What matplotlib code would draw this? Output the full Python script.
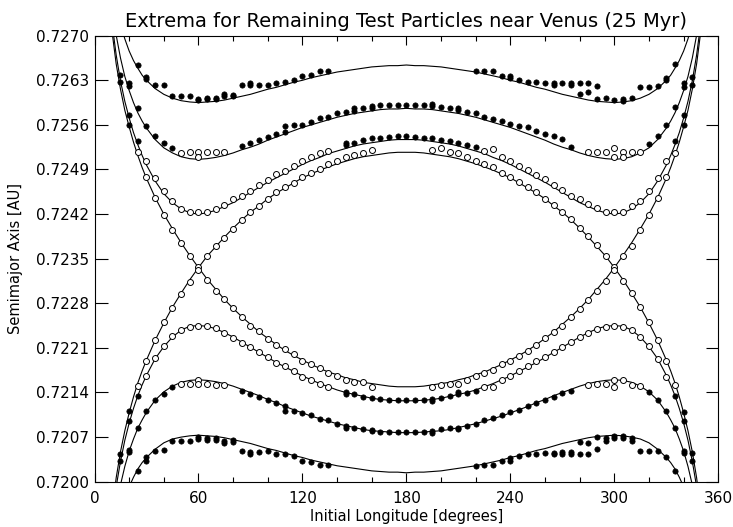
import numpy as np
import matplotlib
matplotlib.use("Agg")
import matplotlib.pyplot as plt
from matplotlib.ticker import MultipleLocator

plt.rcParams['font.family'] = ['DejaVu Sans']

# longitudes at which the zero-velocity curves were read
line_lon = [10, 12.5, 15, 17.5, 20, 22.5, 25, 27.5, 30, 35, 40, 45, 50, 55, 60, 65, 70, 75, 80, 85,
            90, 95, 100, 105, 110, 115, 120, 125, 130, 135, 140, 145, 150, 155, 160, 165, 170, 175,
            180, 185, 190, 195, 200, 205, 210, 215, 220, 225, 230, 235, 240, 245, 250, 255, 260,
            265, 270, 275, 280, 285, 290, 295, 300, 305, 310, 315, 320, 325, 330, 332.5, 335,
            337.5, 340, 342.5, 345, 347.5, 350]

# upper curves (outer), top to bottom
u1_line = [0.72795, 0.72751, 0.72719, 0.72695, 0.72676, 0.72661, 0.72649, 0.72638, 0.72630, 0.72617,
           0.72608, 0.72602, 0.72598, 0.72596, 0.72595, 0.72596, 0.72597, 0.72599, 0.72602, 0.72605,
           0.72608, 0.72612, 0.72616, 0.72619, 0.72623, 0.72627, 0.72630, 0.72634, 0.72637, 0.72640,
           0.72643, 0.72645, 0.72647, 0.72649, 0.72651, 0.72652, 0.72653, 0.72653, 0.72654,
           0.72653, 0.72653, 0.72652, 0.72651, 0.72649, 0.72647, 0.72645, 0.72643, 0.72640, 0.72637,
           0.72634, 0.72630, 0.72627, 0.72623, 0.72619, 0.72616, 0.72612, 0.72608, 0.72605, 0.72602,
           0.72599, 0.72597, 0.72596, 0.72595, 0.72596, 0.72598, 0.72602, 0.72608, 0.72617, 0.72630,
           0.72638, 0.72649, 0.72661, 0.72676, 0.72695, 0.72719, 0.72751, 0.72795]
u2_line = [0.72750, 0.72701, 0.72665, 0.72636, 0.72614, 0.72595, 0.72579, 0.72566, 0.72555, 0.72537,
           0.72524, 0.72516, 0.72510, 0.72507, 0.72506, 0.72507, 0.72509, 0.72512, 0.72516, 0.72521,
           0.72525, 0.72530, 0.72536, 0.72541, 0.72546, 0.72551, 0.72556, 0.72560, 0.72564, 0.72568,
           0.72572, 0.72575, 0.72578, 0.72580, 0.72582, 0.72584, 0.72585, 0.72585, 0.72586,
           0.72585, 0.72585, 0.72584, 0.72582, 0.72580, 0.72578, 0.72575, 0.72572, 0.72568, 0.72564,
           0.72560, 0.72556, 0.72551, 0.72546, 0.72541, 0.72536, 0.72530, 0.72525, 0.72521, 0.72516,
           0.72512, 0.72509, 0.72507, 0.72506, 0.72507, 0.72510, 0.72516, 0.72524, 0.72537, 0.72555,
           0.72566, 0.72579, 0.72595, 0.72614, 0.72636, 0.72665, 0.72701, 0.72750]
u3_line = [0.72722, 0.72670, 0.72629, 0.72597, 0.72571, 0.72548, 0.72529, 0.72512, 0.72497, 0.72472,
           0.72452, 0.72438, 0.72428, 0.72422, 0.72420, 0.72422, 0.72426, 0.72432, 0.72438, 0.72446,
           0.72454, 0.72462, 0.72470, 0.72477, 0.72484, 0.72491, 0.72498, 0.72504, 0.72509, 0.72515,
           0.72519, 0.72523, 0.72527, 0.72530, 0.72532, 0.72534, 0.72536, 0.72537, 0.72537,
           0.72537, 0.72536, 0.72534, 0.72532, 0.72530, 0.72527, 0.72523, 0.72519, 0.72515, 0.72509,
           0.72504, 0.72498, 0.72491, 0.72484, 0.72477, 0.72470, 0.72462, 0.72454, 0.72446, 0.72438,
           0.72432, 0.72426, 0.72422, 0.72420, 0.72422, 0.72428, 0.72438, 0.72452, 0.72472, 0.72497,
           0.72512, 0.72529, 0.72548, 0.72571, 0.72597, 0.72629, 0.72670, 0.72722]
u4_line = [0.72709, 0.72656, 0.72616, 0.72583, 0.72557, 0.72533, 0.72512, 0.72493, 0.72476, 0.72446,
           0.72420, 0.72397, 0.72375, 0.72355, 0.72336, 0.72354, 0.72369, 0.72384, 0.72398, 0.72411,
           0.72423, 0.72433, 0.72444, 0.72453, 0.72461, 0.72469, 0.72477, 0.72483, 0.72489, 0.72494,
           0.72499, 0.72503, 0.72507, 0.72510, 0.72512, 0.72514, 0.72516, 0.72517, 0.72517,
           0.72517, 0.72516, 0.72514, 0.72512, 0.72510, 0.72507, 0.72503, 0.72499, 0.72494, 0.72489,
           0.72483, 0.72477, 0.72469, 0.72461, 0.72453, 0.72444, 0.72433, 0.72423, 0.72411, 0.72398,
           0.72384, 0.72369, 0.72354, 0.72336, 0.72355, 0.72375, 0.72397, 0.72420, 0.72446, 0.72476,
           0.72493, 0.72512, 0.72533, 0.72557, 0.72583, 0.72616, 0.72656, 0.72709]

# lower curves (inner), top to bottom
l4_line = [0.71950, 0.72006, 0.72047, 0.72080, 0.72108, 0.72133, 0.72155, 0.72174, 0.72191, 0.72222,
           0.72249, 0.72274, 0.72296, 0.72317, 0.72336, 0.72318, 0.72302, 0.72286, 0.72272, 0.72259,
           0.72247, 0.72235, 0.72225, 0.72215, 0.72206, 0.72198, 0.72191, 0.72184, 0.72178, 0.72172,
           0.72168, 0.72163, 0.72160, 0.72156, 0.72154, 0.72152, 0.72150, 0.72149, 0.72149,
           0.72149, 0.72150, 0.72152, 0.72154, 0.72156, 0.72160, 0.72163, 0.72168, 0.72172, 0.72178,
           0.72184, 0.72191, 0.72198, 0.72206, 0.72215, 0.72225, 0.72235, 0.72247, 0.72259, 0.72272,
           0.72286, 0.72302, 0.72318, 0.72336, 0.72317, 0.72296, 0.72274, 0.72249, 0.72222, 0.72191,
           0.72174, 0.72155, 0.72133, 0.72108, 0.72080, 0.72047, 0.72006, 0.71950]
l3_line = [0.71938, 0.71992, 0.72032, 0.72065, 0.72092, 0.72115, 0.72135, 0.72152, 0.72167, 0.72193,
           0.72212, 0.72227, 0.72238, 0.72244, 0.72245, 0.72244, 0.72240, 0.72234, 0.72227, 0.72219,
           0.72211, 0.72203, 0.72195, 0.72187, 0.72180, 0.72173, 0.72166, 0.72160, 0.72154, 0.72149,
           0.72144, 0.72140, 0.72137, 0.72134, 0.72131, 0.72129, 0.72128, 0.72127, 0.72127,
           0.72127, 0.72128, 0.72129, 0.72131, 0.72134, 0.72137, 0.72140, 0.72144, 0.72149, 0.72154,
           0.72160, 0.72166, 0.72173, 0.72180, 0.72187, 0.72195, 0.72203, 0.72211, 0.72219, 0.72227,
           0.72234, 0.72240, 0.72244, 0.72245, 0.72244, 0.72238, 0.72227, 0.72212, 0.72193, 0.72167,
           0.72152, 0.72135, 0.72115, 0.72092, 0.72065, 0.72032, 0.71992, 0.71938]
l2_line = [0.71907, 0.71957, 0.71995, 0.72024, 0.72048, 0.72067, 0.72084, 0.72097, 0.72109, 0.72128,
           0.72141, 0.72150, 0.72156, 0.72159, 0.72160, 0.72159, 0.72157, 0.72154, 0.72150, 0.72145,
           0.72140, 0.72135, 0.72129, 0.72124, 0.72118, 0.72113, 0.72108, 0.72103, 0.72099, 0.72095,
           0.72091, 0.72088, 0.72085, 0.72082, 0.72080, 0.72079, 0.72078, 0.72077, 0.72077,
           0.72077, 0.72078, 0.72079, 0.72080, 0.72082, 0.72085, 0.72088, 0.72091, 0.72095, 0.72099,
           0.72103, 0.72108, 0.72113, 0.72118, 0.72124, 0.72129, 0.72135, 0.72140, 0.72145, 0.72150,
           0.72154, 0.72157, 0.72159, 0.72160, 0.72159, 0.72156, 0.72150, 0.72141, 0.72128, 0.72109,
           0.72097, 0.72084, 0.72067, 0.72048, 0.72024, 0.71995, 0.71957, 0.71907]
l1_line = [0.71873, 0.71917, 0.71949, 0.71973, 0.71992, 0.72007, 0.72020, 0.72030, 0.72038, 0.72051,
           0.72061, 0.72067, 0.72070, 0.72072, 0.72073, 0.72072, 0.72071, 0.72069, 0.72066, 0.72063,
           0.72060, 0.72056, 0.72052, 0.72049, 0.72045, 0.72041, 0.72038, 0.72034, 0.72031, 0.72028,
           0.72025, 0.72023, 0.72021, 0.72019, 0.72017, 0.72016, 0.72015, 0.72015, 0.72014,
           0.72015, 0.72015, 0.72016, 0.72017, 0.72019, 0.72021, 0.72023, 0.72025, 0.72028, 0.72031,
           0.72034, 0.72038, 0.72041, 0.72045, 0.72049, 0.72052, 0.72056, 0.72060, 0.72063, 0.72066,
           0.72069, 0.72071, 0.72072, 0.72073, 0.72072, 0.72070, 0.72067, 0.72061, 0.72051, 0.72038,
           0.72030, 0.72020, 0.72007, 0.71992, 0.71973, 0.71949, 0.71917, 0.71873]

# test particles: filled = one kind of extremum, open = the other
u1_fill_lon = [25, 30, 30, 35, 40, 45, 50, 55, 60, 60, 65, 65, 70, 70, 75, 75, 80, 80, 85, 90,
               90, 95, 100, 105, 110, 115, 120, 125, 130, 135, 220, 225, 230, 235, 240, 240, 245, 250,
               255, 260, 265, 265, 270, 275, 275, 280, 280, 285, 285, 290, 290, 295, 300, 305, 305,
               310, 315, 320, 325, 330, 330, 335]
u1_fill_a = [0.72654, 0.72635, 0.72632, 0.72622, 0.72622, 0.72605, 0.72605, 0.72605, 0.72601, 0.72599,
             0.72602, 0.72600, 0.72602, 0.72600, 0.72609, 0.72606, 0.72607, 0.72605, 0.72622, 0.72625,
             0.72622, 0.72623, 0.72622, 0.72626, 0.72627, 0.72631, 0.72636, 0.72638, 0.72645, 0.72644,
             0.72645, 0.72644, 0.72644, 0.72637, 0.72636, 0.72633, 0.72630, 0.72627, 0.72627, 0.72625,
             0.72626, 0.72623, 0.72625, 0.72626, 0.72622, 0.72626, 0.72609, 0.72626, 0.72611, 0.72621,
             0.72600, 0.72603, 0.72599, 0.72601, 0.72598, 0.72602, 0.72620, 0.72620, 0.72621, 0.72634,
             0.72630, 0.72655]

u2_fill_lon = [20, 20, 25, 30, 35, 40, 45, 85, 90, 95, 100, 105, 110, 110, 115, 120, 125, 130, 135,
               140, 145, 150, 150, 155, 160, 160, 165, 170, 175, 180, 185, 190, 195, 195, 200, 205,
               210, 210, 215, 220, 225, 230, 235, 240, 245, 250, 255, 260, 265, 270, 275, 320, 325,
               330, 335, 340, 340]
u2_fill_a = [0.72626, 0.72621, 0.72586, 0.72559, 0.72542, 0.72532, 0.72524, 0.72527, 0.72531, 0.72536,
             0.72541, 0.72545, 0.72559, 0.72549, 0.72560, 0.72560, 0.72565, 0.72571, 0.72572, 0.72579,
             0.72581, 0.72586, 0.72582, 0.72587, 0.72589, 0.72586, 0.72592, 0.72592, 0.72592, 0.72592,
             0.72592, 0.72592, 0.72593, 0.72590, 0.72588, 0.72587, 0.72587, 0.72583, 0.72581, 0.72579,
             0.72573, 0.72569, 0.72566, 0.72561, 0.72558, 0.72556, 0.72551, 0.72546, 0.72543, 0.72538,
             0.72526, 0.72530, 0.72542, 0.72560, 0.72588, 0.72625, 0.72620]
u2_open_lon = [50, 55, 60, 60, 65, 70, 75, 285, 290, 295, 300, 300, 305, 305, 310, 315]
u2_open_a = [0.72516, 0.72517, 0.72517, 0.72510, 0.72517, 0.72518, 0.72517, 0.72517, 0.72517,
             0.72517, 0.72523, 0.72510, 0.72517, 0.72510, 0.72517, 0.72518]

u3_fill_lon = [15, 20, 25, 145, 145, 150, 155, 160, 165, 170, 175, 180, 185, 190, 195, 200, 205,
               210, 215, 220, 335, 340, 345]
u3_fill_a = [0.72638, 0.72576, 0.72534, 0.72531, 0.72528, 0.72531, 0.72537, 0.72539, 0.72539,
             0.72541, 0.72542, 0.72542, 0.72541, 0.72539, 0.72539, 0.72537, 0.72534, 0.72532,
             0.72529, 0.72526, 0.72534, 0.72576, 0.72635]
u3_open_lon = [30, 35, 40, 45, 50, 55, 60, 65, 70, 75, 80, 85, 90, 95, 100, 105, 110, 115, 120,
               125, 130, 135, 225, 230, 235, 240, 245, 250, 255, 260, 265, 270, 275, 280, 285, 290,
               295, 300, 305, 310, 315, 320, 325, 330]
u3_open_a = [0.72503, 0.72477, 0.72456, 0.72440, 0.72428, 0.72424, 0.72424, 0.72424, 0.72428, 0.72435,
             0.72444, 0.72449, 0.72457, 0.72465, 0.72473, 0.72483, 0.72488, 0.72495, 0.72503, 0.72510,
             0.72516, 0.72519, 0.72519, 0.72522, 0.72510, 0.72503, 0.72495, 0.72489, 0.72482, 0.72475,
             0.72466, 0.72458, 0.72449, 0.72443, 0.72436, 0.72430, 0.72424, 0.72424, 0.72424, 0.72432,
             0.72441, 0.72456, 0.72477, 0.72504]

u4_fill_lon = [15, 20, 340, 345]
u4_fill_a = [0.72628, 0.72560, 0.72560, 0.72622]
u4_open_lon = [25, 30, 35, 40, 45, 50, 55, 60, 65, 70, 75, 80, 85, 90, 95, 100, 105, 110, 115, 120,
               125, 130, 135, 140, 145, 150, 155, 160, 195, 200, 205, 210, 215, 220, 225, 230, 235,
               240, 245, 250, 255, 260, 265, 270, 275, 280, 285, 290, 295, 300, 305, 310, 315, 320,
               325, 330, 335]
u4_open_a = [0.72518, 0.72479, 0.72445, 0.72419, 0.72395, 0.72374, 0.72354, 0.72337, 0.72354, 0.72370,
             0.72383, 0.72397, 0.72410, 0.72424, 0.72432, 0.72444, 0.72454, 0.72462, 0.72469, 0.72479,
             0.72484, 0.72491, 0.72498, 0.72503, 0.72510, 0.72512, 0.72516, 0.72520, 0.72520, 0.72524,
             0.72517, 0.72516, 0.72509, 0.72503, 0.72498, 0.72494, 0.72484, 0.72479, 0.72470, 0.72462,
             0.72454, 0.72444, 0.72434, 0.72424, 0.72412, 0.72398, 0.72385, 0.72371, 0.72354, 0.72337,
             0.72354, 0.72370, 0.72395, 0.72419, 0.72446, 0.72479, 0.72516]

l4_fill_lon = [15, 20, 340, 345]
l4_fill_a = [0.72043, 0.72111, 0.72110, 0.72045]
l4_open_lon = [25, 30, 35, 40, 45, 50, 55, 60, 65, 70, 75, 80, 85, 90, 95, 100, 105, 110, 115, 120,
               125, 130, 135, 140, 145, 150, 155, 160, 195, 200, 205, 210, 215, 220, 225, 230, 235,
               240, 245, 250, 255, 260, 265, 270, 275, 280, 285, 290, 295, 300, 305, 310, 315, 320,
               325, 330, 335]
l4_open_a = [0.72150, 0.72189, 0.72223, 0.72250, 0.72273, 0.72294, 0.72314, 0.72332, 0.72316, 0.72300,
             0.72286, 0.72272, 0.72259, 0.72244, 0.72237, 0.72224, 0.72215, 0.72208, 0.72200, 0.72190,
             0.72185, 0.72178, 0.72171, 0.72166, 0.72159, 0.72157, 0.72157, 0.72149, 0.72149, 0.72152,
             0.72153, 0.72153, 0.72159, 0.72166, 0.72171, 0.72176, 0.72184, 0.72190, 0.72198, 0.72205,
             0.72215, 0.72225, 0.72235, 0.72245, 0.72259, 0.72271, 0.72285, 0.72300, 0.72315, 0.72332,
             0.72315, 0.72296, 0.72274, 0.72250, 0.72223, 0.72190, 0.72152]

l3_fill_lon = [15, 20, 25, 145, 145, 150, 155, 160, 165, 170, 175, 180, 185, 190, 195, 195, 200,
               205, 210, 210, 215, 220, 335, 340, 345]
l3_fill_a = [0.72033, 0.72095, 0.72134, 0.72140, 0.72137, 0.72138, 0.72133, 0.72132, 0.72130,
             0.72128, 0.72128, 0.72128, 0.72128, 0.72129, 0.72130, 0.72127, 0.72132, 0.72134,
             0.72137, 0.72140, 0.72139, 0.72142, 0.72135, 0.72095, 0.72033]
l3_open_lon = [30, 35, 40, 45, 50, 55, 60, 65, 70, 75, 80, 85, 90, 95, 100, 105, 110, 115, 120,
               125, 130, 135, 225, 230, 235, 240, 245, 250, 255, 260, 265, 270, 275, 280, 285, 290,
               295, 300, 305, 310, 315, 320, 325, 330]
l3_open_a = [0.72166, 0.72194, 0.72213, 0.72228, 0.72238, 0.72243, 0.72244, 0.72244, 0.72241, 0.72234,
             0.72226, 0.72218, 0.72211, 0.72204, 0.72196, 0.72187, 0.72182, 0.72174, 0.72165, 0.72159,
             0.72153, 0.72149, 0.72149, 0.72148, 0.72160, 0.72166, 0.72174, 0.72182, 0.72189, 0.72196,
             0.72204, 0.72211, 0.72219, 0.72227, 0.72234, 0.72239, 0.72243, 0.72244, 0.72243, 0.72238,
             0.72227, 0.72213, 0.72192, 0.72164]

l2_fill_lon = [20, 20, 25, 30, 35, 40, 45, 85, 90, 95, 100, 105, 110, 110, 115, 120, 125, 130, 135,
               140, 145, 145, 150, 155, 160, 160, 165, 170, 175, 180, 185, 190, 195, 195, 200, 205,
               210, 210, 215, 220, 225, 230, 235, 240, 245, 250, 255, 260, 265, 270, 275, 320, 325,
               330, 335, 340, 340]
l2_fill_a = [0.72050, 0.72047, 0.72085, 0.72111, 0.72128, 0.72138, 0.72148, 0.72142, 0.72138, 0.72133,
             0.72129, 0.72124, 0.72119, 0.72111, 0.72111, 0.72108, 0.72105, 0.72099, 0.72097, 0.72090,
             0.72087, 0.72085, 0.72085, 0.72083, 0.72081, 0.72079, 0.72078, 0.72078, 0.72078, 0.72078,
             0.72078, 0.72078, 0.72080, 0.72077, 0.72082, 0.72084, 0.72085, 0.72083, 0.72087, 0.72091,
             0.72097, 0.72100, 0.72105, 0.72110, 0.72113, 0.72119, 0.72124, 0.72128, 0.72133, 0.72139,
             0.72142, 0.72140, 0.72128, 0.72111, 0.72085, 0.72048, 0.72045]
l2_open_lon = [50, 55, 60, 60, 65, 70, 75, 285, 290, 295, 300, 300, 305, 310, 315]
l2_open_a = [0.72153, 0.72153, 0.72160, 0.72153, 0.72153, 0.72151, 0.72152, 0.72152, 0.72153,
             0.72153, 0.72160, 0.72148, 0.72159, 0.72152, 0.72150]

l1_fill_lon = [25, 30, 30, 35, 40, 45, 50, 55, 60, 60, 65, 65, 70, 70, 75, 75, 80, 80, 85, 90,
               90, 95, 100, 105, 110, 115, 120, 125, 130, 135, 220, 225, 230, 235, 240, 240, 245, 250,
               255, 260, 265, 265, 270, 270, 275, 275, 280, 280, 285, 285, 290, 290, 295, 295, 300,
               300, 305, 305, 310, 310, 315, 320, 325, 330, 335]
l1_fill_a = [0.72017, 0.72038, 0.72033, 0.72048, 0.72049, 0.72064, 0.72064, 0.72064, 0.72070, 0.72067,
             0.72069, 0.72066, 0.72069, 0.72066, 0.72064, 0.72060, 0.72065, 0.72063, 0.72048, 0.72046,
             0.72043, 0.72046, 0.72048, 0.72044, 0.72043, 0.72040, 0.72033, 0.72031, 0.72026, 0.72026,
             0.72024, 0.72026, 0.72026, 0.72032, 0.72037, 0.72032, 0.72040, 0.72043, 0.72043, 0.72045,
             0.72045, 0.72043, 0.72047, 0.72044, 0.72047, 0.72043, 0.72062, 0.72044, 0.72060, 0.72043,
             0.72070, 0.72051, 0.72069, 0.72064, 0.72072, 0.72069, 0.72072, 0.72068, 0.72069, 0.72064,
             0.72048, 0.72048, 0.72048, 0.72038, 0.72017]

y_ticks = [0.7200, 0.7207, 0.7214, 0.7221, 0.7228, 0.7235, 0.7242, 0.7249, 0.7256, 0.7263, 0.7270]
x_ticks = [0, 60, 120, 180, 240, 300, 360]

fig = plt.figure(figsize=(7.33, 5.27), dpi=100)
ax = fig.add_axes([94.5 / 733, 1 - 481.7 / 527, 623.8 / 733, 446.0 / 527])

for curve in [u1_line, u2_line, u3_line, u4_line, l4_line, l3_line, l2_line, l1_line]:
    ax.plot(line_lon, curve, color='black', lw=0.8, zorder=2)

filled = [(u1_fill_lon, u1_fill_a), (u2_fill_lon, u2_fill_a), (u3_fill_lon, u3_fill_a),
          (u4_fill_lon, u4_fill_a), (l4_fill_lon, l4_fill_a), (l3_fill_lon, l3_fill_a),
          (l2_fill_lon, l2_fill_a), (l1_fill_lon, l1_fill_a)]
opened = [(u2_open_lon, u2_open_a), (u3_open_lon, u3_open_a), (u4_open_lon, u4_open_a),
          (l4_open_lon, l4_open_a), (l3_open_lon, l3_open_a), (l2_open_lon, l2_open_a)]

for lon, a in filled:
    ax.plot(lon, a, 'o', ms=3.8, mfc='black', mec='black', mew=0.5, zorder=3)
for lon, a in opened:
    ax.plot(lon, a, 'o', ms=4.3, mfc='white', mec='black', mew=0.7, zorder=3)

ax.set_xlim(0, 360)
ax.set_ylim(0.7200, 0.7270)
ax.set_xticks(x_ticks)
ax.xaxis.set_minor_locator(MultipleLocator(20))
ax.set_yticks(y_ticks)
ax.set_yticklabels(['%.4f' % v for v in y_ticks])

ax.tick_params(axis='both', which='both', direction='in', top=True, right=True,
               labelsize=11, width=0.8, colors='black')
ax.tick_params(axis='x', which='major', length=6.5, pad=7)
ax.tick_params(axis='x', which='minor', length=3.3)
ax.tick_params(axis='y', which='major', length=9, pad=4)
for sp in ax.spines.values():
    sp.set_linewidth(0.8)

ax.set_title('Extrema for Remaining Test Particles near Venus (25 Myr)', fontsize=14, pad=6)
ax.set_xlabel('Initial Longitude [degrees]', fontsize=10.5, va='top')
ax.xaxis.set_label_coords(0.5, -0.062)
ax.set_ylabel('Semimajor Axis [AU]', fontsize=10.5)
ax.yaxis.set_label_coords(-0.115, 0.5)

fig.savefig('out.png', dpi=100)
